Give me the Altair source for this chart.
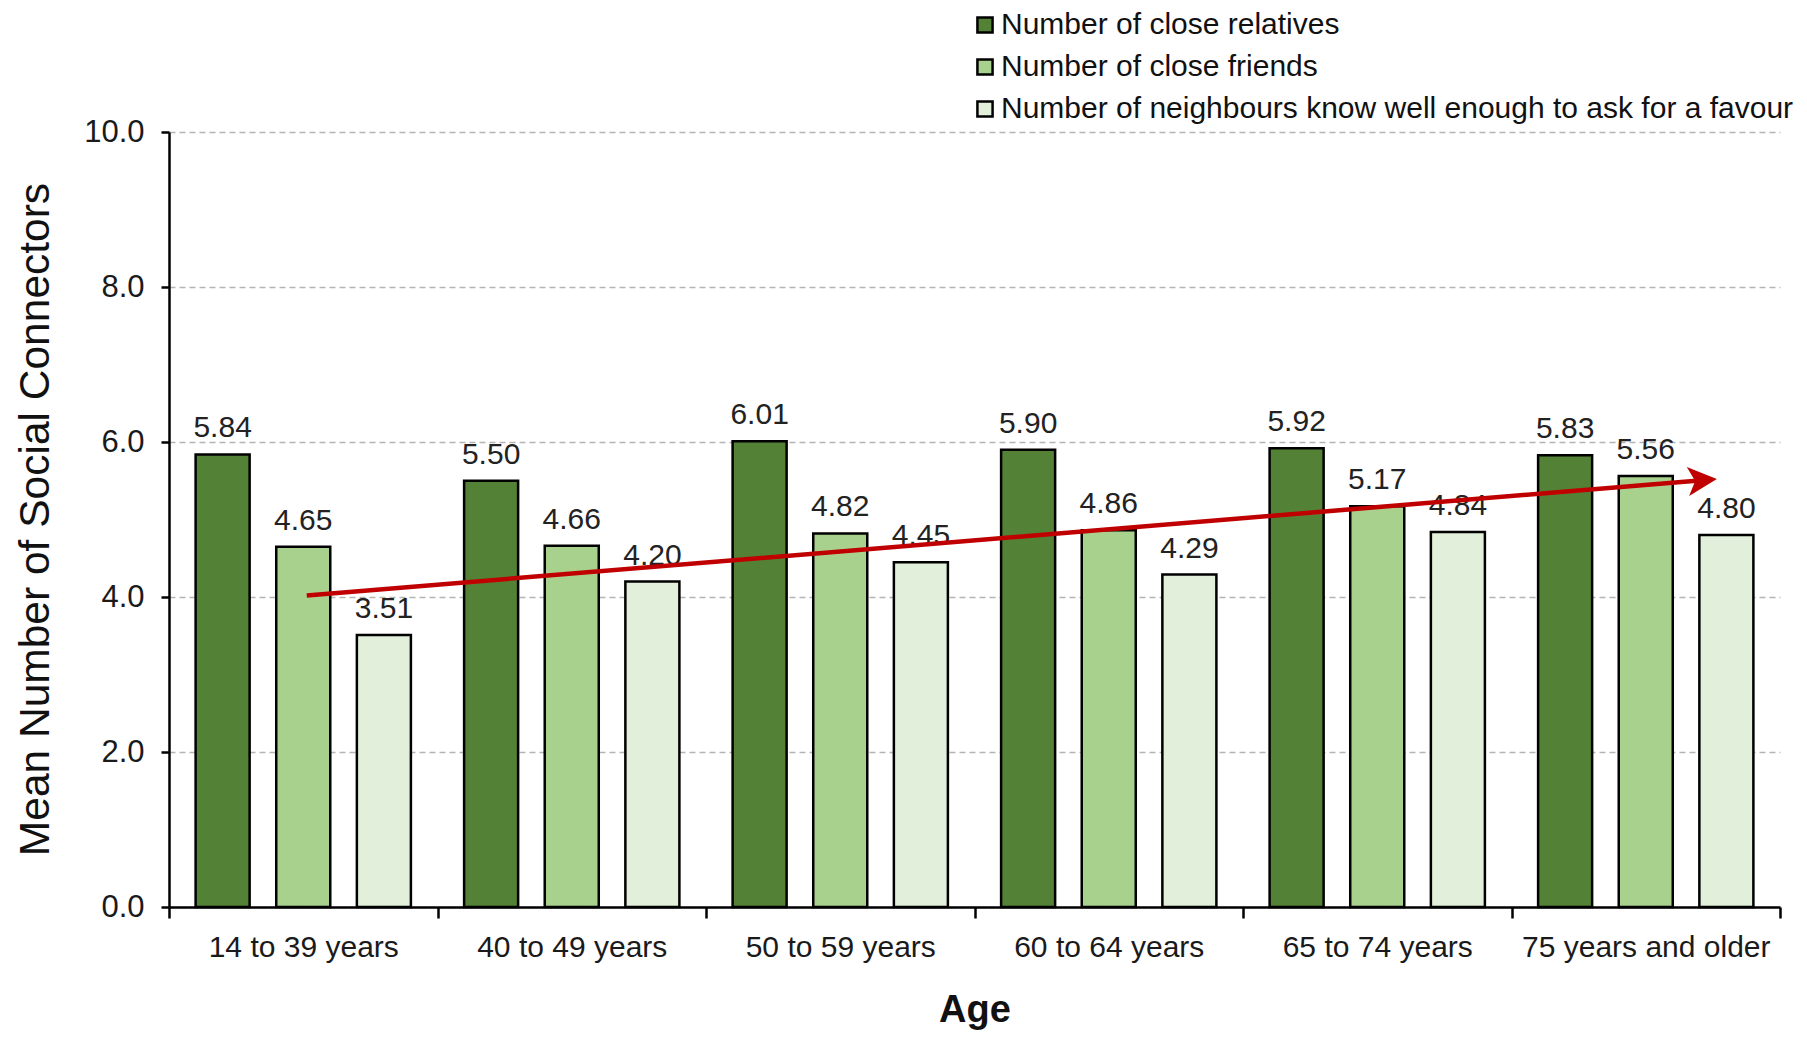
import altair as alt
import pandas as pd

FONT = "Liberation Sans"

categories = ["14 to 39 years", "40 to 49 years", "50 to 59 years",
              "60 to 64 years", "65 to 74 years", "75 years and older"]
series = ["Number of close relatives", "Number of close friends",
          "Number of neighbours know well enough to ask for a favour"]
relatives = [5.84, 5.50, 6.01, 5.90, 5.92, 5.83]
friends = [4.65, 4.66, 4.82, 4.86, 5.17, 5.56]
neighbours = [3.51, 4.20, 4.45, 4.29, 4.84, 4.80]
colors = ["#538135", "#A9D18E", "#E2EFDA"]
y_ticks = [0, 2, 4, 6, 8, 10]

# trend arrow, x in category units (0..6), y in data units
arrow_x = [0.513, 5.711]
arrow_y = [4.02, 5.506]

rows = []
for s, vals in zip(series, [relatives, friends, neighbours]):
    for c, v in zip(categories, vals):
        rows.append({"age": c, "series": s, "value": v})
df = pd.DataFrame(rows)
arrow_df = pd.DataFrame({"ax": arrow_x, "value": arrow_y})
head_df = pd.DataFrame({"ax": [arrow_x[-1]], "value": [arrow_y[-1]]})

y_enc = alt.Y("value:Q", scale=alt.Scale(domain=[0, 10], nice=False),
              axis=alt.Axis(values=y_ticks, format=".1f",
                            title="Mean Number of Social Connectors",
                            titleFontSize=42.5, titleFontWeight="normal",
                            titleX=-134, titleY=387, titleBaseline="middle",
                            titleColor="#111",
                            labelFontSize=31, labelPadding=17, tickSize=8,
                            grid=True, gridDash=[6, 4], gridColor="#b4b4b4",
                            gridWidth=1.3))

x_enc = alt.X("age:N", sort=categories,
              scale=alt.Scale(domain=categories, paddingInner=0, paddingOuter=0),
              axis=alt.Axis(title="Age", titleFontSize=38, titleFontWeight="bold",
                            titleY=103, titleBaseline="middle", titleColor="#111",
                            labelFontSize=30, labelPadding=14, tickSize=11,
                            labelLimit=1000,
                            tickBand="extent", labelAngle=0, grid=False))

xoff_enc = alt.XOffset("series:N", sort=series,
                       scale=alt.Scale(domain=series, paddingInner=0.33,
                                       paddingOuter=0.33))

bars = alt.Chart(df).mark_bar(stroke="black", strokeWidth=2.5).encode(
    x=x_enc,
    xOffset=xoff_enc,
    y=y_enc,
    color=alt.Color("series:N", sort=series,
                    scale=alt.Scale(domain=series, range=colors),
                    title=None,
                    legend=alt.Legend(orient="none", legendX=801, legendY=-122,
                                      symbolType="square", symbolSize=230,
                                      symbolStrokeColor="black",
                                      symbolStrokeWidth=2.5, labelFontSize=30,
                                      labelFont=FONT, labelColor="#111",
                                      labelOffset=1, rowPadding=12,
                                      padding=0, labelLimit=1000)),
)

labels = alt.Chart(df).mark_text(fontSize=30, dy=-17, baseline="alphabetic",
                                 font=FONT, color="#222").encode(
    x=x_enc,
    xOffset=xoff_enc,
    y=y_enc,
    text=alt.Text("value:Q", format=".2f"),
)

ax_enc = alt.X("ax:Q", scale=alt.Scale(domain=[0, 6], nice=False, zero=False),
               axis=None)

arrow_line = alt.Chart(arrow_df).mark_line(color="#C00000", strokeWidth=4.5).encode(
    x=ax_enc, y=y_enc)

arrow_head = alt.Chart(head_df).mark_point(
    shape="M1,0 L-1,-1 L-0.5,0 L-1,1 Z", size=841, filled=True,
    color="#C00000", opacity=1, angle=355.3, strokeWidth=0).encode(
    x=ax_enc, y=y_enc)

chart = alt.layer(
    alt.layer(bars, labels),
    alt.layer(arrow_line, arrow_head),
).resolve_scale(x="independent").properties(
    width=1611, height=775,
    autosize=alt.AutoSizeParams(type="none"),
    padding={"left": 161, "top": 124, "right": 15, "bottom": 127},
).configure(font=FONT).configure_view(stroke=None).configure_axis(
    domainColor="black", domainWidth=2.5, tickColor="black", tickWidth=2.5,
    labelColor="#1a1a1a", labelFont=FONT, titleFont=FONT,
)

chart.save("out.html", embed_options={"renderer": "svg", "actions": False})
